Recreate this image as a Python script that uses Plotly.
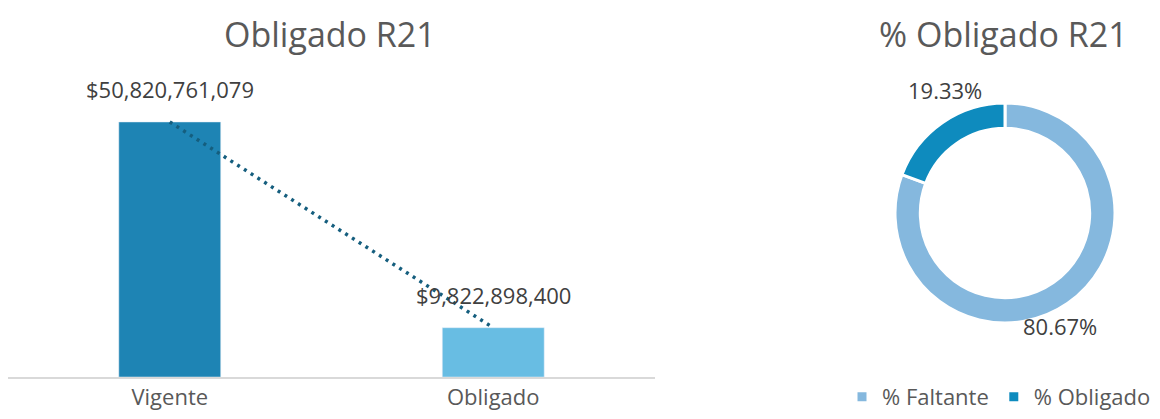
import plotly.graph_objects as go

categorias = ["Vigente", "Obligado"]
valores = [50820761079, 9822898400]
colores_barras = ["#1E84B4", "#68BDE3"]

pie_labels = ["% Faltante", "% Obligado"]
pie_valores = [80.67, 19.33]
pie_colores = ["#85B8DE", "#0E8BBE"]

GRIS = "#595959"
FUENTE = "Open Sans"

# la página tiene 8px de margen en el body
W, H, OFF = 1144, 403, 8


def px(x):
    return (x - OFF) / W


def py(y):
    return 1 - (y - OFF) / H


fig = go.Figure()

fig.add_trace(go.Bar(
    x=categorias,
    y=valores,
    marker_color=colores_barras,
    showlegend=False,
    hoverinfo="skip",
))
fig.add_trace(go.Scatter(
    x=categorias,
    y=valores,
    mode="lines",
    line=dict(color="#155E7E", width=3.5, dash="3px,5px"),
    showlegend=False,
    hoverinfo="skip",
))

for c, v in zip(categorias, valores):
    fig.add_annotation(x=c, y=v, xref="x", yref="y", yshift=33,
                       text=f"${v:,.0f}", showarrow=False,
                       font=dict(size=22, color="#404040"))

fig.add_trace(go.Pie(
    labels=pie_labels,
    values=pie_valores,
    hole=0.77,
    sort=False,
    direction="clockwise",
    rotation=0,
    marker=dict(colors=pie_colores, line=dict(color="white", width=3)),
    textinfo="none",
    domain=dict(x=[px(880), px(1130)], y=[py(323), py(103)]),
    hoverinfo="skip",
))

# etiquetas de porcentaje junto al anillo, como en el original
pos_etiquetas = [(1060, 326), (945, 90)]
for v, (ex, ey) in zip(pie_valores, pos_etiquetas):
    fig.add_annotation(x=px(ex), y=py(ey), xref="paper", yref="paper",
                       xanchor="center", yanchor="middle",
                       text=f"{v:.2f}%", showarrow=False,
                       font=dict(size=22, color="#404040"))

# títulos pegados al borde superior
fig.add_annotation(x=px(330), y=1, xref="paper", yref="paper",
                   xanchor="center", yanchor="top", yshift=-1,
                   text="Obligado R21", showarrow=False,
                   font=dict(size=34, color=GRIS))
fig.add_annotation(x=px(1003), y=1, xref="paper", yref="paper",
                   xanchor="center", yanchor="top", yshift=-1,
                   text="% Obligado R21", showarrow=False,
                   font=dict(size=34, color=GRIS))

fig.update_layout(
    width=W,
    height=H,
    margin=dict(l=0, r=0, t=0, b=0, autoexpand=False),
    plot_bgcolor="white",
    paper_bgcolor="white",
    font=dict(family=FUENTE, color=GRIS),
    bargap=0.685,
    xaxis=dict(domain=[px(8), px(655)], showline=True, linecolor="#D9D9D9",
               linewidth=2, ticks="", tickfont=dict(size=22, color=GRIS),
               showgrid=False),
    yaxis=dict(domain=[py(377), py(70)], range=[0, 61.18e9], visible=False,
               showgrid=False, zeroline=False),
    legend=dict(orientation="h", x=px(842), y=py(397), xanchor="left",
                yanchor="middle", itemwidth=30, tracegroupgap=0,
                font=dict(size=22, color=GRIS)),
)

fig.write_html("out.html")
